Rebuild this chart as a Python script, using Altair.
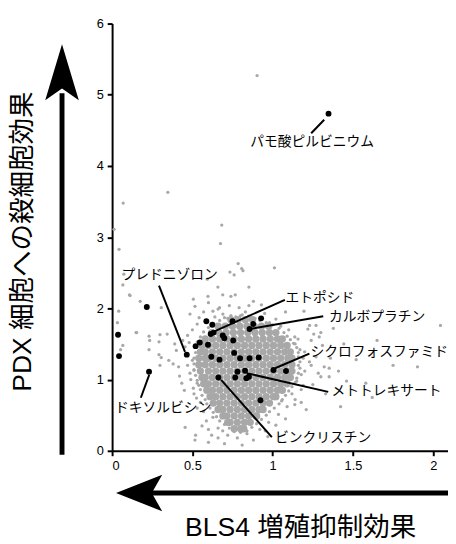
import altair as alt
import pandas as pd

# ---- data ----
x_ticks = [0, 0.5, 1, 1.5, 2]
y_ticks = [0, 1, 2, 3, 4, 5, 6]

# dense core of the grey cloud, read row by row (y value, then x positions)
core_rows_y = [1.84, 1.75, 1.66, 1.57, 1.48, 1.39, 1.30, 1.21, 1.12, 1.03, 0.94, 0.85, 0.76, 0.67, 0.58, 0.49, 0.40, 0.31]
core_rows_x = [
    [0.74, 0.785, 0.83, 0.875],
    [0.66, 0.705, 0.75, 0.795, 0.84, 0.885, 0.93, 0.975],
    [0.62, 0.665, 0.71, 0.755, 0.80, 0.845, 0.89, 0.935, 0.98, 1.02],
    [0.58, 0.625, 0.67, 0.715, 0.76, 0.805, 0.85, 0.895, 0.94, 0.985, 1.03, 1.06],
    [0.56, 0.60, 0.645, 0.69, 0.735, 0.78, 0.825, 0.87, 0.915, 0.96, 1.005, 1.05, 1.09],
    [0.55, 0.58, 0.625, 0.67, 0.715, 0.76, 0.805, 0.85, 0.895, 0.94, 0.985, 1.03, 1.075, 1.11],
    [0.54, 0.58, 0.60, 0.645, 0.69, 0.735, 0.78, 0.825, 0.87, 0.915, 0.96, 1.005, 1.05, 1.095, 1.12],
    [0.54, 0.58, 0.625, 0.67, 0.715, 0.76, 0.805, 0.85, 0.895, 0.94, 0.985, 1.03, 1.075, 1.12],
    [0.55, 0.60, 0.645, 0.69, 0.735, 0.78, 0.825, 0.87, 0.915, 0.96, 1.005, 1.05, 1.095, 1.12],
    [0.56, 0.58, 0.625, 0.67, 0.715, 0.76, 0.805, 0.85, 0.895, 0.94, 0.985, 1.03, 1.075, 1.11],
    [0.57, 0.60, 0.645, 0.69, 0.735, 0.78, 0.825, 0.87, 0.915, 0.96, 1.005, 1.05, 1.09],
    [0.59, 0.625, 0.67, 0.715, 0.76, 0.805, 0.85, 0.895, 0.94, 0.985, 1.03, 1.06],
    [0.61, 0.645, 0.69, 0.735, 0.78, 0.825, 0.87, 0.915, 0.96, 1.005, 1.02],
    [0.63, 0.67, 0.715, 0.76, 0.805, 0.85, 0.895, 0.94, 0.98],
    [0.66, 0.69, 0.735, 0.78, 0.825, 0.87, 0.915, 0.94],
    [0.69, 0.715, 0.76, 0.805, 0.85, 0.895, 0.90],
    [0.72, 0.735, 0.78, 0.825, 0.86],
    [0.76, 0.80, 0.82],
]

# scattered grey compounds
grey_points = [
    (0.903, 5.27), (0.347, 3.63), (0.069, 3.48), (0.012, 3.11), (0.683, 3.17), (0.043, 2.83), (0.675, 2.91),
    (0.785, 2.63), (0.807, 2.56), (0.815, 2.53), (0.734, 2.51), (0.76, 2.47), (1.011, 2.57), (0.073, 2.48),
    (0.067, 2.33), (0.659, 2.30), (0.852, 2.30), (0.593, 2.41), (0.112, 2.18), (0.175, 2.10), (0.306, 2.01),
    (0.041, 1.96), (0.033, 1.80), (0.506, 2.13), (0.516, 2.03), (0.597, 2.17), (0.689, 2.19), (0.74, 2.17),
    (0.767, 2.19), (0.669, 2.01), (0.73, 2.04), (0.791, 2.01), (0.852, 2.04), (0.485, 1.92), (0.542, 1.87),
    (0.628, 1.96), (1.195, 1.96), (1.27, 1.76), (2.045, 1.76),
    (0.153, 1.66), (0.23, 1.61), (0.234, 1.55), (0.298, 1.63), (0.343, 1.64), (0.40, 1.41), (0.292, 1.35),
    (0.455, 1.46), (0.067, 1.48), (0.053, 1.42), (0.353, 1.27), (0.414, 1.18), (0.485, 1.09), (0.434, 0.95),
    (0.506, 0.88), (0.526, 0.74), (0.455, 0.33), (0.516, 0.15), (0.587, 0.42), (0.628, 0.47), (0.689, 0.28),
    (0.954, 0.28), (1.056, 0.70), (1.138, 0.65), (1.178, 0.86), (1.25, 0.93), (1.30, 1.04), (1.423, 0.62),
    (1.352, 1.16), (1.24, 1.20), (1.199, 1.39), (1.138, 1.60), (1.219, 1.71), (1.902, 1.18), (1.036, 0.51),
    (0.975, 0.40), (1.23, 1.76), (1.30, 1.66), (1.29, 1.60), (1.378, 1.72), (1.256, 1.64), (1.24, 1.55),
    (1.158, 1.57), (1.443, 1.50), (1.321, 1.18), (1.284, 1.09), (1.352, 1.04), (1.178, 1.07), (1.229, 1.25),
    (1.209, 0.58), (1.178, 0.68), (0.108, 2.19), (0.149, 1.66), (0.292, 1.53), (0.23, 1.42), (0.306, 1.31),
    (0.298, 1.20),
    (0.47, 1.62), (0.50, 1.70), (0.53, 1.78), (0.48, 1.52), (0.50, 1.27), (0.47, 1.20), (0.51, 1.13),
    (0.49, 1.00), (0.53, 0.95), (0.51, 0.80), (0.55, 0.68), (0.53, 0.60), (0.57, 0.55), (0.56, 0.35),
    (0.60, 0.30), (0.62, 0.22), (0.66, 0.18), (0.45, 0.85), (0.42, 1.05), (0.38, 1.22), (0.44, 1.55),
    (0.39, 1.50),
    (0.64, 1.88), (0.69, 1.92), (0.72, 1.86), (0.80, 1.90), (0.83, 1.95), (0.86, 1.88), (0.95, 1.93),
    (0.98, 1.80), (1.02, 1.85), (1.05, 1.75), (0.66, 1.99), (0.57, 1.95), (0.88, 2.10), (0.93, 2.05),
    (1.08, 1.95), (0.60, 2.08),
    (1.10, 1.70), (1.14, 1.50), (1.17, 1.42), (1.19, 1.30), (1.16, 1.20), (1.20, 1.12), (1.15, 0.98),
    (1.19, 0.92), (1.12, 0.80), (1.14, 0.72), (1.09, 0.62), (1.08, 0.45), (1.02, 0.36), (1.27, 1.32),
    (1.31, 1.48), (1.36, 1.30), (1.41, 1.12), (1.46, 0.98), (1.33, 0.80), (1.52, 1.28), (1.58, 0.95),
    (0.66, 0.32), (0.72, 0.22), (0.78, 0.18), (0.84, 0.24), (0.88, 0.15), (0.92, 0.30), (0.70, 0.10),
    (0.97, 0.20), (0.60, 0.12), (0.81, 0.08), (0.52, 0.22),
    (1.65, 1.55), (1.75, 1.20), (1.62, 0.75),
    # compounds on the fringe of the dense core
    (0.70, 1.87), (0.74, 1.90), (0.77, 1.88), (0.81, 1.91), (0.85, 1.89), (0.89, 1.86), (0.92, 1.83),
    (0.96, 1.80), (1.00, 1.77), (0.67, 1.83), (0.63, 1.79), (0.60, 1.73),
    (1.04, 1.72), (1.07, 1.66), (1.09, 1.61), (1.11, 1.56), (1.13, 1.51), (1.15, 1.45), (1.16, 1.38),
    (1.16, 1.32), (1.17, 1.25), (1.17, 1.16), (1.16, 1.09), (1.15, 1.02), (1.14, 0.96), (1.12, 0.90),
    (1.10, 0.84), (1.08, 0.78), (1.06, 0.72), (1.04, 0.66), (1.01, 0.60), (0.98, 0.55), (0.96, 0.50),
    (0.93, 0.44), (0.90, 0.38), (0.87, 0.33), (0.84, 0.28), (0.80, 0.26), (0.76, 0.27), (0.73, 0.32),
    (0.70, 0.37), (0.67, 0.42), (0.65, 0.48), (0.63, 0.54), (0.61, 0.60), (0.59, 0.66), (0.58, 0.72),
    (0.56, 0.78), (0.55, 0.86), (0.54, 0.92), (0.53, 0.99), (0.52, 1.06), (0.51, 1.14), (0.51, 1.22),
    (0.51, 1.30), (0.52, 1.38), (0.52, 1.46), (0.53, 1.53), (0.55, 1.60), (0.57, 1.67),
]

# highlighted (black) compounds
hit_x = [0.037, 0.043, 0.23, 0.216, 0.465, 0.52, 0.546, 0.587, 0.624, 0.614, 0.632, 0.689, 0.699,
         0.597, 0.618, 0.669, 0.76, 0.797, 0.856, 0.913, 0.75, 0.879, 0.928, 1.005, 1.083, 0.781,
         0.828, 0.767, 0.836, 0.852, 0.662, 0.924, 1.348, 0.856, 0.754]
hit_y = [1.63, 1.33, 1.11, 2.02, 1.35, 1.47, 1.52, 1.82, 1.77, 1.64, 1.66, 1.62, 1.58,
         1.49, 1.32, 1.28, 1.375, 1.30, 1.30, 1.31, 1.82, 1.78, 1.86, 1.135, 1.12, 1.11,
         1.125, 1.03, 1.02, 1.04, 1.03, 0.71, 4.735, 1.71, 1.55]

# drug names and their callout lines
label_text = ["パモ酸ピルビニウム", "プレドニゾロン", "エトポシド", "カルボプラチン",
              "シクロフォスファミド", "メトトレキサート", "ビンクリスチン", "ドキソルビシン"]
label_x = [1.245, 0.358, 1.294, 1.651, 1.664, 1.709, 1.315, 0.318]
label_y = [4.33, 2.47, 2.145, 1.876, 1.386, 0.834, 0.179, 0.60]
lead_x = [1.240, 0.292, 1.076, 1.315, 1.229, 1.346, 0.995, 0.179]
lead_y = [4.46, 2.32, 2.12, 1.89, 1.366, 0.828, 0.193, 0.745]
lead_x2 = [1.321, 0.454, 0.63, 0.856, 1.015, 0.838, 0.679, 0.231]
lead_y2 = [4.65, 1.39, 1.67, 1.71, 1.159, 1.09, 0.997, 1.066]

x_title = "BLS4 増殖抑制効果"
y_title = "PDX 細胞への殺細胞効果"

# ---- chart ----
W, H = 342, 435
JP = "'Noto Sans CJK JP', sans-serif"
LAT = "'Liberation Sans', 'Noto Sans CJK JP', sans-serif"
GREY = "#a8a8a8"

core_df = pd.DataFrame(
    [(x, y) for y, row in zip(core_rows_y, core_rows_x) for x in row], columns=["x", "y"])
grey_df = pd.DataFrame(grey_points, columns=["x", "y"])
hit_df = pd.DataFrame({"x": hit_x, "y": hit_y})
lab_df = pd.DataFrame({"t": label_text, "x": label_x, "y": label_y})
lead_df = pd.DataFrame({"x": lead_x, "y": lead_y, "x2": lead_x2, "y2": lead_y2})

xs = alt.Scale(domain=[0, 2.092], nice=False, zero=False)
ys = alt.Scale(domain=[0, 6], nice=False, zero=False)
ax_style = dict(grid=False, domainColor="black", domainWidth=2, tickColor="black", tickWidth=2,
                tickSize=5, labelFont="Liberation Sans", labelFontSize=13, labelColor="black",
                labelPadding=4, title=None)
xenc = alt.X("x:Q", scale=xs, axis=alt.Axis(values=x_ticks, format="~g", **ax_style))
yenc = alt.Y("y:Q", scale=ys, axis=alt.Axis(values=y_ticks, format="d", **ax_style))

core = alt.Chart(core_df).mark_circle(size=56, color=GREY, opacity=1).encode(x=xenc, y=yenc)
grey = alt.Chart(grey_df).mark_circle(size=11, color=GREY, opacity=1).encode(x=xenc, y=yenc)
leads = alt.Chart(lead_df).mark_rule(color="black", strokeWidth=2).encode(
    x=xenc, y=yenc, x2="x2:Q", y2="y2:Q")
hits = alt.Chart(hit_df).mark_circle(size=36, color="black", opacity=1).encode(x=xenc, y=yenc)
labels = alt.Chart(lab_df).mark_text(font=JP, fontSize=14, color="black", align="center",
                                     baseline="middle").encode(x=xenc, y=yenc, text="t:N")

one = alt.Data(values=[{"a": 1}])
# big arrows beside the axis titles
y_shaft = alt.Chart(one).mark_rule(color="black", strokeWidth=5).encode(
    x=alt.value(-51), y=alt.value(71), y2=alt.value(439))
y_head = alt.Chart(one).mark_point(shape="M0,-1L0.6,1L0,0.58L-0.6,1Z", size=3249, filled=True,
                                   color="black", opacity=1).encode(x=alt.value(-51), y=alt.value(49.5))
x_shaft = alt.Chart(one).mark_rule(color="black", strokeWidth=5).encode(
    x=alt.value(36), x2=alt.value(342), y=alt.value(478))
x_head = alt.Chart(one).mark_point(shape="M-1,0L1,-0.79L0.55,0L1,0.79Z", size=2209, filled=True,
                                   color="black", opacity=1).encode(x=alt.value(27.5), y=alt.value(478))
y_tt = alt.Chart(one).mark_text(text=y_title, font=LAT, fontSize=27, angle=270, align="center",
                                baseline="middle", color="black").encode(x=alt.value(-91), y=alt.value(222))
x_tt = alt.Chart(one).mark_text(text=x_title, font=LAT, fontSize=27, align="center",
                                baseline="middle", color="black").encode(x=alt.value(192), y=alt.value(514))

chart = alt.layer(core, grey, leads, hits, labels, y_shaft, y_head, x_shaft, x_head, y_tt, x_tt).properties(
    width=W, height=H,
    autosize=alt.AutoSizeParams(type="none"),
    padding={"left": 106, "top": 11, "right": 0, "bottom": 88},
).configure_view(stroke=None)

chart.save("out.html", embed_options={"renderer": "svg", "actions": False})
